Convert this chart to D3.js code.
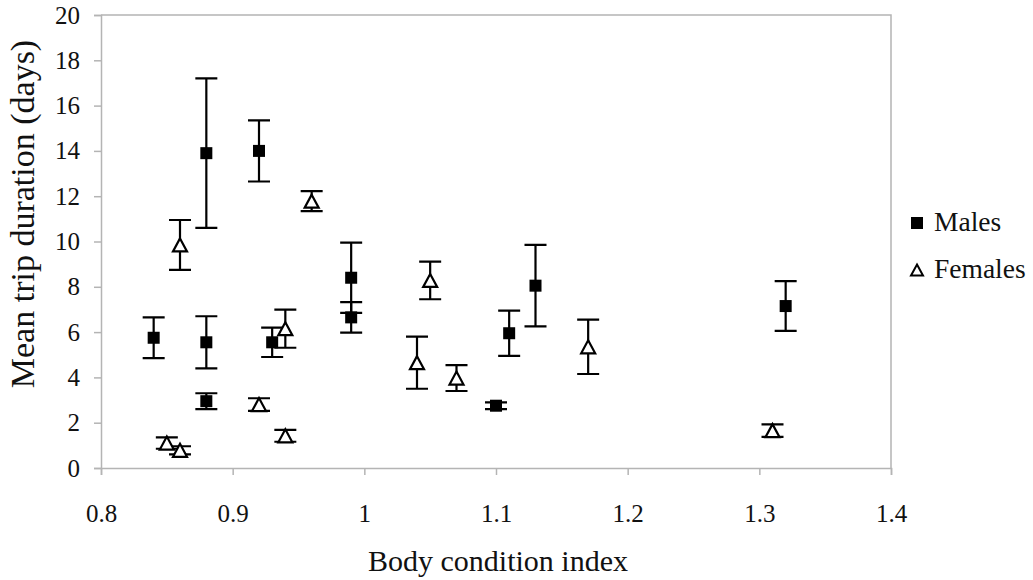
<!DOCTYPE html>
<html><head><meta charset="utf-8">
<script src="https://cdn.jsdelivr.net/npm/d3@7"></script>
<style>
body{margin:0;background:#fff}
svg text{font-family:"Liberation Serif","Times New Roman",serif;fill:#111}
</style>
</head><body><svg id="c" width="1033" height="580"></svg>
<script>
// Body condition index vs. mean foraging trip duration, with ± error bars
const maleBCI    = [0.84, 0.88, 0.88, 0.88, 0.92, 0.93, 0.99, 0.99, 1.10, 1.11, 1.13, 1.32];
const maleTrip   = [5.75, 13.9, 5.55, 2.95, 14.0, 5.55, 8.4, 6.65, 2.75, 5.95, 8.05, 7.15];
const maleErr    = [0.9, 3.3, 1.15, 0.35, 1.35, 0.65, 1.55, 0.67, 0.15, 1.0, 1.8, 1.1];
const femaleBCI  = [0.85, 0.86, 0.86, 0.92, 0.94, 0.94, 0.96, 1.04, 1.05, 1.07, 1.17, 1.31];
const femaleTrip = [1.1, 9.85, 0.78, 2.8, 6.15, 1.42, 11.78, 4.65, 8.28, 3.97, 5.35, 1.65];
const femaleErr  = [0.25, 1.1, 0.18, 0.28, 0.84, 0.26, 0.44, 1.15, 0.83, 0.57, 1.2, 0.28];
const xTicks = [0.8, 0.9, 1, 1.1, 1.2, 1.3, 1.4];
const yTicks = [0, 2, 4, 6, 8, 10, 12, 14, 16, 18, 20];
const seriesNames = ["Males", "Females"];

const svg = d3.select("#c");
const x = d3.scaleLinear().domain([0.8, 1.4]).range([101, 891]);
const y = d3.scaleLinear().domain([0, 20]).range([468, 15]);
const axisColor = "#b4b4b4";
const serif = '"Liberation Serif", "Times New Roman", serif';

// plot frame (top and right edges)
svg.append("path")
  .attr("d", `M${x(0.8)},${y(20)}H${x(1.4)}V${y(0)}`)
  .attr("fill", "none").attr("stroke", axisColor).attr("stroke-width", 1.5);

const gx = svg.append("g").attr("transform", `translate(0,${y(0)})`)
  .call(d3.axisBottom(x).tickValues(xTicks).tickSize(7).tickPadding(29)
    .tickFormat(d => String(d)));
const gy = svg.append("g").attr("transform", `translate(${x(0.8)},0)`)
  .call(d3.axisLeft(y).tickValues(yTicks).tickSize(7).tickPadding(14));
[gx, gy].forEach(g => {
  g.attr("font-family", null).attr("font-size", null);
  g.select(".domain").attr("stroke", axisColor).attr("stroke-width", 1.5);
  g.selectAll(".tick line").attr("stroke", axisColor).attr("stroke-width", 1.5);
  g.selectAll(".tick text").style("font-family", serif).style("font-size", "25px")
    .attr("fill", "#111");
});
gx.selectAll(".tick text").attr("dy", "0.71em");

// axis titles
svg.append("text").attr("x", 498).attr("y", 571).attr("text-anchor", "middle")
  .style("font-size", "30px").text("Body condition index");
svg.append("text").attr("transform", "translate(34,214) rotate(-90)")
  .attr("text-anchor", "middle").style("font-size", "34px").text("Mean trip duration (days)");

function rows(xs, ys, es) { return xs.map((v, i) => ({x: v, y: ys[i], e: es[i]})); }
const males = rows(maleBCI, maleTrip, maleErr);
const females = rows(femaleBCI, femaleTrip, femaleErr);
const cap = 11;

function errorBars(data) {
  const g = svg.append("g").attr("stroke", "#000").attr("stroke-width", 2.2).attr("fill", "none");
  g.selectAll("path").data(data).join("path")
    .attr("d", d => {
      const cx = x(d.x), t = y(d.y + d.e), b = y(d.y - d.e);
      return `M${cx},${t}V${b}M${cx - cap},${t}H${cx + cap}M${cx - cap},${b}H${cx + cap}`;
    });
}
errorBars(males);
errorBars(females);

const sq = 12;
const triPath = "M0,-6.5L7,6.5L-7,6.5Z";
svg.append("g").selectAll("rect").data(males).join("rect")
  .attr("x", d => x(d.x) - sq / 2).attr("y", d => y(d.y) - sq / 2)
  .attr("width", sq).attr("height", sq).attr("fill", "#000");
svg.append("g").selectAll("path").data(females).join("path")
  .attr("transform", d => `translate(${x(d.x)},${y(d.y)})`)
  .attr("d", triPath).attr("fill", "#fff").attr("stroke", "#000").attr("stroke-width", 2.2);

// legend
const lg = svg.append("g");
lg.append("rect").attr("x", 911).attr("y", 217).attr("width", sq).attr("height", sq).attr("fill", "#000");
lg.append("path").attr("transform", "translate(917,270)").attr("d", "M0,-5.5L6,5.5L-6,5.5Z")
  .attr("fill", "#fff").attr("stroke", "#000").attr("stroke-width", 2);
lg.append("text").attr("x", 934).attr("y", 231).style("font-size", "27.5px").text(seriesNames[0]);
lg.append("text").attr("x", 934).attr("y", 278).style("font-size", "27.5px").text(seriesNames[1]);
</script>
</body></html>
